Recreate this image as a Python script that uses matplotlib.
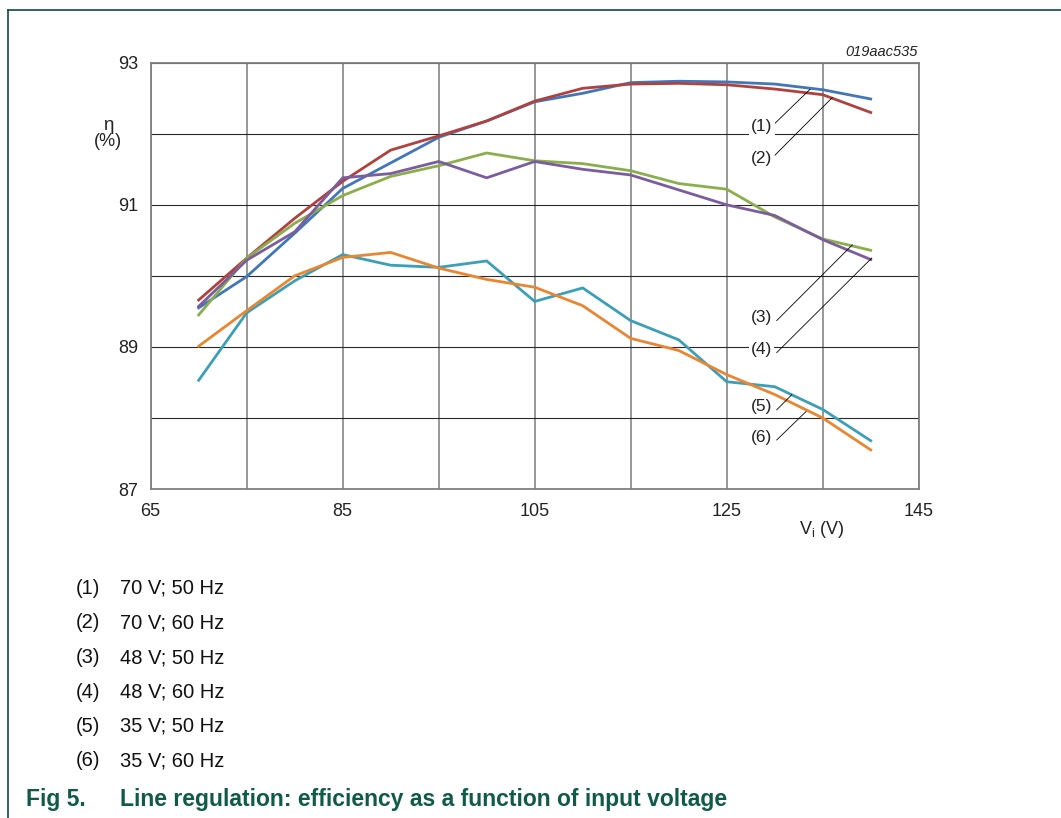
import matplotlib.pyplot as plt
from matplotlib.lines import Line2D

plt.rcParams['font.family'] = ['Liberation Sans', 'DejaVu Sans']

# input voltage (V)
vin = [70, 75, 80, 85, 90, 95, 100, 105, 110, 115, 120, 125, 130, 135, 140]

# efficiency (%) per curve
eff_70v_50hz = [89.55, 89.99, 90.60, 91.23, 91.59, 91.95, 92.18, 92.45, 92.57, 92.72, 92.74, 92.73, 92.70, 92.62, 92.49]
eff_70v_60hz = [89.66, 90.25, 90.81, 91.33, 91.77, 91.97, 92.18, 92.46, 92.64, 92.70, 92.71, 92.69, 92.63, 92.55, 92.30]
eff_48v_50hz = [89.45, 90.25, 90.74, 91.13, 91.40, 91.55, 91.73, 91.62, 91.58, 91.48, 91.30, 91.22, 90.83, 90.52, 90.36]
eff_48v_60hz = [89.57, 90.22, 90.62, 91.38, 91.44, 91.61, 91.38, 91.61, 91.50, 91.42, 91.21, 91.00, 90.85, 90.51, 90.23]
eff_35v_50hz = [88.53, 89.48, 89.93, 90.30, 90.15, 90.12, 90.21, 89.64, 89.83, 89.37, 89.10, 88.51, 88.44, 88.12, 87.68]
eff_35v_60hz = [89.01, 89.51, 90.00, 90.26, 90.33, 90.11, 89.95, 89.84, 89.58, 89.12, 88.95, 88.61, 88.33, 88.00, 87.55]

curves = [eff_70v_50hz, eff_70v_60hz, eff_48v_50hz, eff_48v_60hz, eff_35v_50hz, eff_35v_60hz]
colors = ['#4177b8', '#b0413e', '#8aae4b', '#7b5c9e', '#3b9fb8', '#ea8530']
labels = ['(1)', '(2)', '(3)', '(4)', '(5)', '(6)']
legend_text = ['70 V; 50 Hz', '70 V; 60 Hz', '48 V; 50 Hz', '48 V; 60 Hz', '35 V; 50 Hz', '35 V; 60 Hz']

x_major = [65, 85, 105, 125, 145]
x_minor = [75, 95, 115, 135]
y_major = [87, 89, 91, 93]
y_minor = [88, 90, 92]

# callout label positions and leader lines (start near label, end on curve)
label_y = [92.10, 91.65, 89.41, 88.97, 88.16, 87.72]
leaders = [((130.03, 92.148), (133.68, 92.626)),
           ((130.03, 91.70), (136.0, 92.51)),
           ((130.21, 89.371), (138.08, 90.436)),
           ((130.21, 88.92), (140.1, 90.25)),
           ((130.21, 88.115), (131.77, 88.326)),
           ((130.21, 87.69), (133.26, 88.09))]

fig = plt.figure(figsize=(10.61, 8.18), dpi=100)
ax = fig.add_axes([0.142, 0.4022, 0.7239, 0.5211])

for y, c in zip(curves, colors):
    ax.plot(vin, y, color=c, lw=2.0, zorder=3)

ax.set_xlim(65, 145)
ax.set_ylim(87, 93)
ax.set_xticks(x_major)
ax.set_xticks(x_minor, minor=True)
ax.set_yticks(y_major)
ax.set_yticks(y_minor, minor=True)
ax.set_axisbelow(True)
ax.grid(True, axis='x', which='both', color='#7a7a7a', lw=1.1)
ax.grid(True, axis='y', which='both', color='#2a2a2a', lw=0.8)
ax.tick_params(which='both', length=0, labelsize=13, colors='#222222')
ax.tick_params(axis='y', pad=9)
ax.tick_params(axis='x', pad=10)
for s in ax.spines.values():
    s.set_color('#808080')
    s.set_linewidth(1.3)

for lab, ly, (p0, p1) in zip(labels, label_y, leaders):
    ax.plot([p0[0], p1[0]], [p0[1], p1[1]], color='black', lw=0.6, zorder=4)
    ax.text(128.65, ly, lab, fontsize=12.5, ha='center', va='center', color='#222222',
            bbox=dict(facecolor='white', edgecolor='none', pad=1.5), zorder=5)

# axis titles
fig.text(108 / 1061, 1 - 130 / 818, 'η', fontsize=13.5, ha='center', va='baseline', color='#222222')
fig.text(108 / 1061, 1 - 146.5 / 818, '(%)', fontsize=13, ha='center', va='baseline', color='#222222')
fig.text(822 / 1061, 1 - 529 / 818, 'V$_\\mathregular{i}$ (V)', fontsize=13, ha='center', va='center', color='#222222')
fig.text(918 / 1061, 1 - 52 / 818, '019aac535', fontsize=10.5, style='italic', ha='right', va='center', color='#222222')

# legend list below the chart
leg_base = [594, 628.5, 663, 697.5, 732, 766.5]
for lab, txt, yy in zip(labels, legend_text, leg_base):
    fig.text(76 / 1061, 1 - yy / 818, lab, fontsize=14.5, ha='left', va='baseline', color='#111111')
    fig.text(120 / 1061, 1 - yy / 818, txt, fontsize=14.5, ha='left', va='baseline', color='#111111')

green = '#0f5b48'
fig.text(26 / 1061, 1 - 806 / 818, 'Fig 5.', fontsize=16.5, fontweight='bold', ha='left', va='baseline', color=green)
fig.text(120 / 1061, 1 - 806 / 818, 'Line regulation: efficiency as a function of input voltage',
         fontsize=16.5, fontweight='bold', ha='left', va='baseline', color=green)

# page frame lines
fig.add_artist(Line2D([8 / 1061, 1], [1 - 9.5 / 818, 1 - 9.5 / 818], transform=fig.transFigure, color='#0e4d3c', lw=1.2))
fig.add_artist(Line2D([8 / 1061, 8 / 1061], [0, 1 - 9.5 / 818], transform=fig.transFigure, color='#0e4d3c', lw=1.2))

fig.savefig('out.png', dpi=100)
